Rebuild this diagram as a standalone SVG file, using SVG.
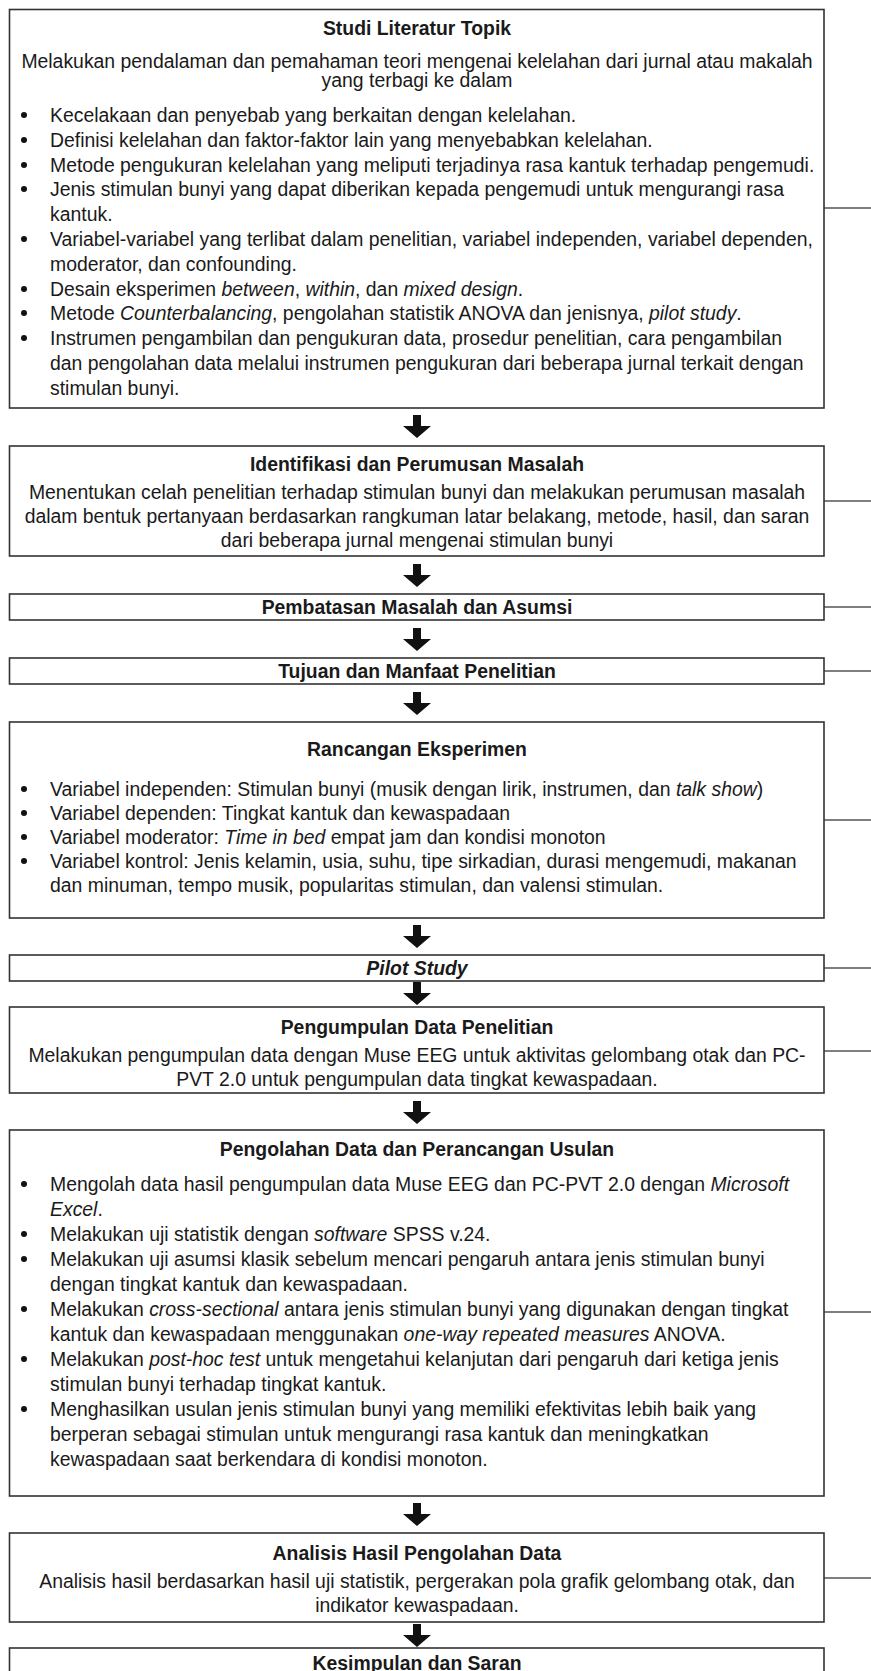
<svg xmlns="http://www.w3.org/2000/svg" width="871" height="1671" viewBox="0 0 871 1671">
<style>
.box{fill:#fff;stroke:#333;stroke-width:1.6}
.t{font-family:"Liberation Sans",Arial,sans-serif;font-size:19.4px;fill:#1a1a1a}
.h{font-weight:bold;text-anchor:middle}
.c{text-anchor:middle}
.side{stroke:#555;stroke-width:1.4;fill:none}
.arr{fill:#111}
.dot{fill:#111}
</style>
<defs>
<path id="ar" d="M413,0 H421 V11 H431 L417,23 L403,11 H413 Z"/>
</defs>
<rect width="871" height="1671" fill="#fff"/>
<g id="connectors">
<use href="#ar" class="arr" y="415"/>
<use href="#ar" class="arr" y="564"/>
<use href="#ar" class="arr" y="628"/>
<use href="#ar" class="arr" y="692"/>
<use href="#ar" class="arr" y="925"/>
<use href="#ar" class="arr" y="982"/>
<use href="#ar" class="arr" y="1101"/>
<use href="#ar" class="arr" y="1503"/>
<use href="#ar" class="arr" y="1624"/>
<line class="side" x1="824" y1="208" x2="871" y2="208"/>
<line class="side" x1="824" y1="501" x2="871" y2="501"/>
<line class="side" x1="824" y1="607" x2="871" y2="607"/>
<line class="side" x1="824" y1="671" x2="871" y2="671"/>
<line class="side" x1="824" y1="820" x2="871" y2="820"/>
<line class="side" x1="824" y1="968" x2="871" y2="968"/>
<line class="side" x1="824" y1="1051" x2="871" y2="1051"/>
<line class="side" x1="824" y1="1312" x2="871" y2="1312"/>
<line class="side" x1="824" y1="1578" x2="871" y2="1578"/>
</g>
<g id="n1">
<rect class="box" x="9.5" y="9.5" width="814.5" height="398.5"/>
<text class="t h" x="417" y="35">Studi Literatur Topik</text>
<text class="t c" x="417" y="68">Melakukan pendalaman dan pemahaman teori mengenai kelelahan dari jurnal atau makalah</text>
<text class="t c" x="417" y="87">yang terbagi ke dalam</text>
<circle class="dot" cx="24" cy="115" r="3"/>
<circle class="dot" cx="24" cy="140" r="3"/>
<circle class="dot" cx="24" cy="165" r="3"/>
<circle class="dot" cx="24" cy="189" r="3"/>
<circle class="dot" cx="24" cy="239" r="3"/>
<circle class="dot" cx="24" cy="289" r="3"/>
<circle class="dot" cx="24" cy="313" r="3"/>
<circle class="dot" cx="24" cy="338" r="3"/>
<text class="t" x="50" y="122">Kecelakaan dan penyebab yang berkaitan dengan kelelahan.</text>
<text class="t" x="50" y="147">Definisi kelelahan dan faktor-faktor lain yang menyebabkan kelelahan.</text>
<text class="t" x="50" y="172">Metode pengukuran kelelahan yang meliputi terjadinya rasa kantuk terhadap pengemudi.</text>
<text class="t" x="50" y="196">Jenis stimulan bunyi yang dapat diberikan kepada pengemudi untuk mengurangi rasa</text>
<text class="t" x="50" y="221">kantuk.</text>
<text class="t" x="50" y="246">Variabel-variabel yang terlibat dalam penelitian, variabel independen, variabel dependen,</text>
<text class="t" x="50" y="271">moderator, dan confounding.</text>
<text class="t" x="50" y="296">Desain eksperimen <tspan font-style="italic">between</tspan>, <tspan font-style="italic">within</tspan>, dan <tspan font-style="italic">mixed design</tspan>.</text>
<text class="t" x="50" y="320">Metode <tspan font-style="italic">Counterbalancing</tspan>, pengolahan statistik ANOVA dan jenisnya, <tspan font-style="italic">pilot study</tspan>.</text>
<text class="t" x="50" y="345">Instrumen pengambilan dan pengukuran data, prosedur penelitian, cara pengambilan</text>
<text class="t" x="50" y="370">dan pengolahan data melalui instrumen pengukuran dari beberapa jurnal terkait dengan</text>
<text class="t" x="50" y="395">stimulan bunyi.</text>
</g>
<g id="n2">
<rect class="box" x="9.5" y="446" width="814.5" height="110"/>
<text class="t h" x="417" y="471">Identifikasi dan Perumusan Masalah</text>
<text class="t c" x="417" y="499">Menentukan celah penelitian terhadap stimulan bunyi dan melakukan perumusan masalah</text>
<text class="t c" x="417" y="523">dalam bentuk pertanyaan berdasarkan rangkuman latar belakang, metode, hasil, dan saran</text>
<text class="t c" x="417" y="547">dari beberapa jurnal mengenai stimulan bunyi</text>
</g>
<g id="n3">
<rect class="box" x="9.5" y="594" width="814.5" height="26"/>
<text class="t h" x="417" y="614">Pembatasan Masalah dan Asumsi</text>
</g>
<g id="n4">
<rect class="box" x="9.5" y="658" width="814.5" height="26"/>
<text class="t h" x="417" y="678">Tujuan dan Manfaat Penelitian</text>
</g>
<g id="n5">
<rect class="box" x="9.5" y="722" width="814.5" height="196"/>
<text class="t h" x="417" y="756">Rancangan Eksperimen</text>
<circle class="dot" cx="24" cy="789" r="3"/>
<circle class="dot" cx="24" cy="813" r="3"/>
<circle class="dot" cx="24" cy="837" r="3"/>
<circle class="dot" cx="24" cy="861" r="3"/>
<text class="t" x="50" y="796">Variabel independen: Stimulan bunyi (musik dengan lirik, instrumen, dan <tspan font-style="italic">talk show</tspan>)</text>
<text class="t" x="50" y="820">Variabel dependen: Tingkat kantuk dan kewaspadaan</text>
<text class="t" x="50" y="844">Variabel moderator: <tspan font-style="italic">Time in bed</tspan> empat jam dan kondisi monoton</text>
<text class="t" x="50" y="868">Variabel kontrol: Jenis kelamin, usia, suhu, tipe sirkadian, durasi mengemudi, makanan</text>
<text class="t" x="50" y="892">dan minuman, tempo musik, popularitas stimulan, dan valensi stimulan.</text>
</g>
<g id="n6">
<rect class="box" x="9.5" y="955" width="814.5" height="26"/>
<text class="t h" x="417" y="975" font-style="italic">Pilot Study</text>
</g>
<g id="n7">
<rect class="box" x="9.5" y="1007" width="814.5" height="86"/>
<text class="t h" x="417" y="1034">Pengumpulan Data Penelitian</text>
<text class="t c" x="417" y="1062">Melakukan pengumpulan data dengan Muse EEG untuk aktivitas gelombang otak dan PC-</text>
<text class="t c" x="417" y="1086">PVT 2.0 untuk pengumpulan data tingkat kewaspadaan.</text>
</g>
<g id="n8">
<rect class="box" x="9.5" y="1130" width="814.5" height="366"/>
<text class="t h" x="417" y="1156">Pengolahan Data dan Perancangan Usulan</text>
<circle class="dot" cx="24" cy="1184" r="3"/>
<circle class="dot" cx="24" cy="1234" r="3"/>
<circle class="dot" cx="24" cy="1259" r="3"/>
<circle class="dot" cx="24" cy="1309" r="3"/>
<circle class="dot" cx="24" cy="1359" r="3"/>
<circle class="dot" cx="24" cy="1409" r="3"/>
<text class="t" x="50" y="1191">Mengolah data hasil pengumpulan data Muse EEG dan PC-PVT 2.0 dengan <tspan font-style="italic">Microsoft</tspan></text>
<text class="t" x="50" y="1216"><tspan font-style="italic">Excel</tspan>.</text>
<text class="t" x="50" y="1241">Melakukan uji statistik dengan <tspan font-style="italic">software</tspan> SPSS v.24.</text>
<text class="t" x="50" y="1266">Melakukan uji asumsi klasik sebelum mencari pengaruh antara jenis stimulan bunyi</text>
<text class="t" x="50" y="1291">dengan tingkat kantuk dan kewaspadaan.</text>
<text class="t" x="50" y="1316">Melakukan <tspan font-style="italic">cross-sectional</tspan> antara jenis stimulan bunyi yang digunakan dengan tingkat</text>
<text class="t" x="50" y="1341">kantuk dan kewaspadaan menggunakan <tspan font-style="italic">one-way repeated measures</tspan> ANOVA.</text>
<text class="t" x="50" y="1366">Melakukan <tspan font-style="italic">post-hoc test</tspan> untuk mengetahui kelanjutan dari pengaruh dari ketiga jenis</text>
<text class="t" x="50" y="1391">stimulan bunyi terhadap tingkat kantuk.</text>
<text class="t" x="50" y="1416">Menghasilkan usulan jenis stimulan bunyi yang memiliki efektivitas lebih baik yang</text>
<text class="t" x="50" y="1441">berperan sebagai stimulan untuk mengurangi rasa kantuk dan meningkatkan</text>
<text class="t" x="50" y="1466">kewaspadaan saat berkendara di kondisi monoton.</text>
</g>
<g id="n9">
<rect class="box" x="9.5" y="1533" width="814.5" height="89"/>
<text class="t h" x="417" y="1560">Analisis Hasil Pengolahan Data</text>
<text class="t c" x="417" y="1588">Analisis hasil berdasarkan hasil uji statistik, pergerakan pola grafik gelombang otak, dan</text>
<text class="t c" x="417" y="1612">indikator kewaspadaan.</text>
</g>
<g id="n10">
<rect class="box" x="9.5" y="1648" width="814.5" height="40"/>
<text class="t h" x="417" y="1670">Kesimpulan dan Saran</text>
</g>
</svg>
